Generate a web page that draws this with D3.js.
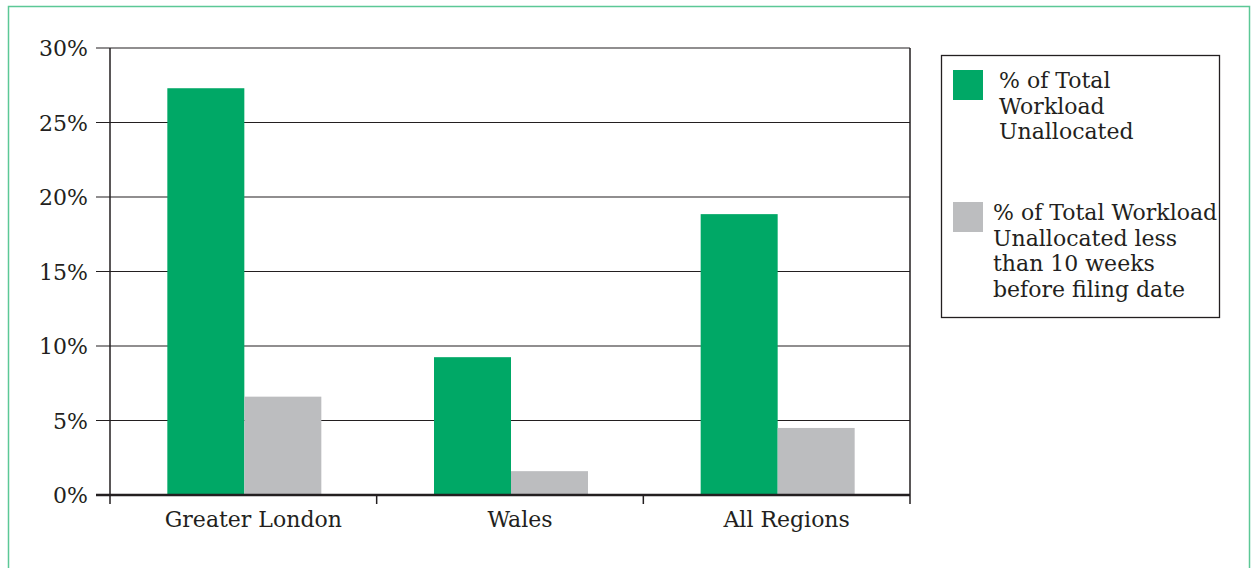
<!DOCTYPE html>
<html lang="en">
<head>
    <meta charset="UTF-8">
    <title>Unallocated Workload by Region</title>
    <script src="https://d3js.org/d3.v7.min.js"></script>
    <style>
        body {
            margin: 0;
            background: #ffffff;
            font-family: "DejaVu Serif", serif;
        }
        .grid line {
            stroke: #231f20;
            stroke-width: 1.2px;
        }
        .axis text {
            fill: #231f20;
            font-size: 22px;
        }
        .legend text {
            fill: #231f20;
            font-size: 22px;
        }
    </style>
</head>
<body>
<svg id="chart"></svg>

<script>
    // chart data
    const regions = ["Greater London", "Wales", "All Regions"];
    const series = ["% of Total Workload Unallocated", "% of Total Workload Unallocated less than 10 weeks before filing date"];
    const unallocated = [27.3, 9.25, 18.85];
    const unallocatedLate = [6.6, 1.6, 4.5];
    const yTicks = [0, 5, 10, 15, 20, 25, 30];
    const legendLines = [
        ["% of Total", "Workload", "Unallocated"],
        ["% of Total Workload", "Unallocated less", "than 10 weeks", "before filing date"]
    ];

    const width = 1255, height = 568;
    const colors = ["#00a866", "#bcbdbf"];

    const svg = d3.select("#chart")
        .attr("width", width)
        .attr("height", height);

    // outer frame
    svg.append("rect")
        .attr("x", 8.5).attr("y", 6.5)
        .attr("width", 1241).attr("height", 580)
        .attr("fill", "none")
        .attr("stroke", "#5cc896")
        .attr("stroke-width", 1.5);

    const plot = {left: 110, right: 910, top: 48, bottom: 495};

    const x = d3.scaleBand()
        .domain(regions)
        .range([plot.left, plot.right]);

    const x1 = d3.scaleBand()
        .domain([0, 1])
        .range([0, 154]);

    const y = d3.scaleLinear()
        .domain([0, 30])
        .range([plot.bottom, plot.top]);

    // horizontal grid lines
    svg.append("g")
        .attr("class", "grid")
        .selectAll("line")
        .data(yTicks.slice(1))
        .enter().append("line")
        .attr("x1", plot.left - 14)
        .attr("x2", plot.right)
        .attr("y1", d => y(d))
        .attr("y2", d => y(d));

    // y axis labels
    svg.append("g")
        .attr("class", "axis")
        .selectAll("text")
        .data(yTicks)
        .enter().append("text")
        .attr("x", plot.left - 22)
        .attr("y", d => y(d) + 8)
        .attr("text-anchor", "end")
        .text(d => d + "%");

    // bars
    const groups = svg.append("g")
        .selectAll("g")
        .data(regions)
        .enter().append("g")
        .attr("transform", d => `translate(${x(d) + (x.bandwidth() - 154) / 2 + 1},0)`);

    groups.selectAll("rect")
        .data((d, i) => [unallocated[i], unallocatedLate[i]])
        .enter().append("rect")
        .attr("x", (d, j) => x1(j))
        .attr("width", x1.bandwidth())
        .attr("y", d => y(d))
        .attr("height", d => y(0) - y(d))
        .attr("fill", (d, j) => colors[j]);

    // axis frame
    svg.append("line")
        .attr("x1", plot.left).attr("x2", plot.left)
        .attr("y1", plot.top).attr("y2", plot.bottom + 9)
        .attr("stroke", "#231f20").attr("stroke-width", 1.5);
    svg.append("line")
        .attr("x1", plot.right).attr("x2", plot.right)
        .attr("y1", plot.top).attr("y2", plot.bottom + 9)
        .attr("stroke", "#231f20").attr("stroke-width", 1.5);
    svg.append("line")
        .attr("x1", plot.left - 14).attr("x2", plot.right)
        .attr("y1", plot.bottom).attr("y2", plot.bottom)
        .attr("stroke", "#231f20").attr("stroke-width", 2.5);

    // x axis
    const xAxis = svg.append("g")
        .attr("class", "axis")
        .attr("transform", `translate(0,${plot.bottom})`);
    xAxis.selectAll("line")
        .data(regions.slice(1))
        .enter().append("line")
        .attr("x1", d => x(d)).attr("x2", d => x(d))
        .attr("y1", 0).attr("y2", 9)
        .attr("stroke", "#231f20").attr("stroke-width", 1.5);
    xAxis.selectAll("text")
        .data(regions)
        .enter().append("text")
        .attr("x", d => x(d) + x.bandwidth() / 2 + 10)
        .attr("y", 32)
        .attr("text-anchor", "middle")
        .text(d => d);

    // legend
    const legend = svg.append("g").attr("class", "legend");
    legend.append("rect")
        .attr("x", 941.5).attr("y", 55.5)
        .attr("width", 278).attr("height", 262)
        .attr("fill", "none")
        .attr("stroke", "#231f20")
        .attr("stroke-width", 1.3);

    const legendY = [70, 202];
    const legendTextX = [999, 993];
    series.forEach((s, i) => {
        legend.append("rect")
            .attr("x", 953).attr("y", legendY[i])
            .attr("width", 30).attr("height", 30)
            .attr("fill", colors[i]);
        legend.append("text")
            .selectAll("tspan")
            .data(legendLines[i])
            .enter().append("tspan")
            .attr("x", legendTextX[i])
            .attr("y", (d, k) => legendY[i] + 18 + k * 25.5)
            .text(d => d);
    });
</script>
</body>
</html>
